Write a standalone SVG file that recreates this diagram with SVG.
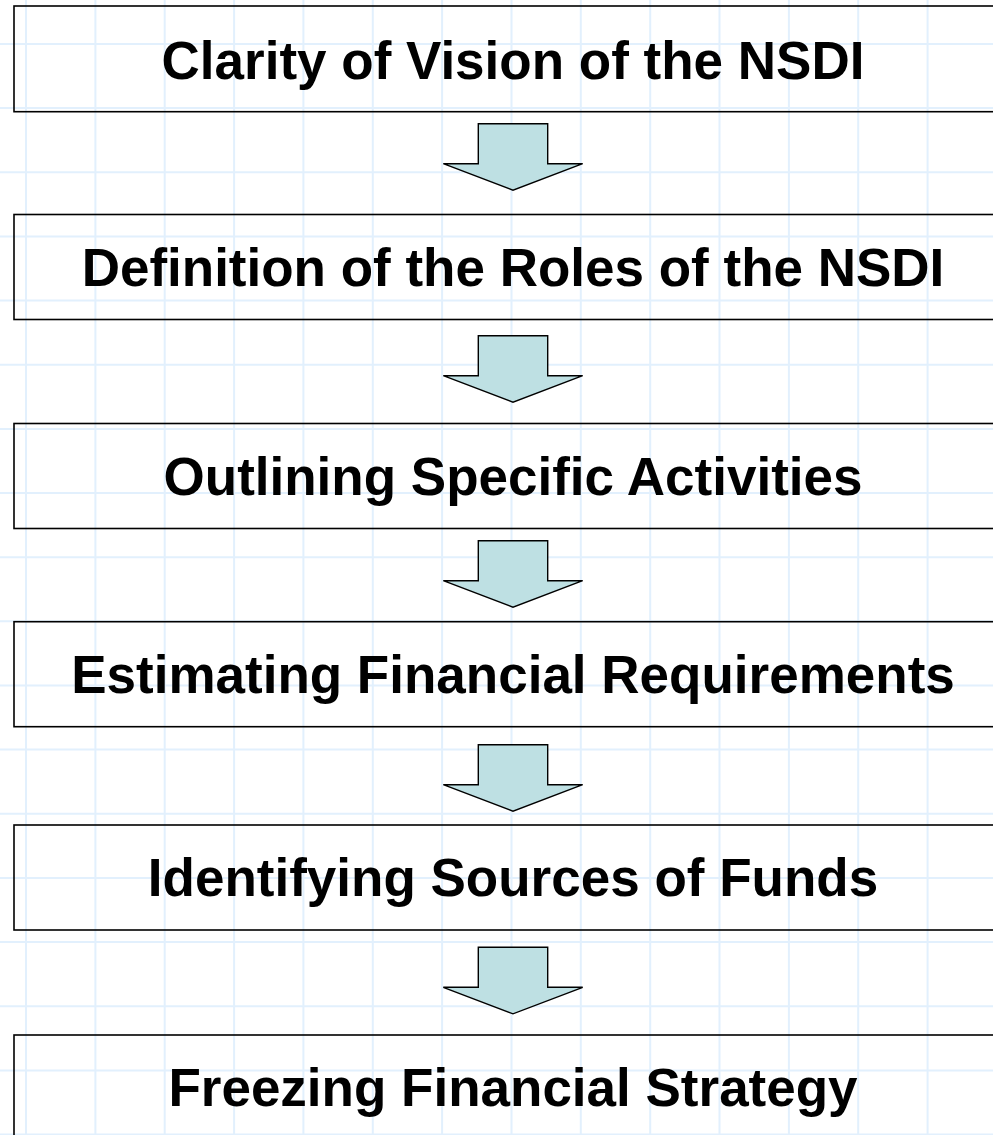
<svg xmlns="http://www.w3.org/2000/svg" width="993" height="1135" viewBox="0 0 993 1135">
<defs>
<style>
.grid line{stroke:#e2f0fd;stroke-width:2}
.box{fill:none;stroke:#000;stroke-width:1.6}
.lbl{font-family:"Liberation Sans",Arial,Helvetica,sans-serif;font-weight:bold;font-size:53px;fill:#000;text-anchor:middle}
.arr{fill:#bee0e3;stroke:#000;stroke-width:1.4;stroke-linejoin:miter}
</style>
<path id="ar" class="arr" d="M478.3,0 H547.7 V40 H582.7 L513,66.5 L443.3,40 H478.3 Z"/>
</defs>
<rect width="993" height="1135" fill="#fff"/>
<g class="grid">
<line x1="26" y1="0" x2="26" y2="1135"/>
<line x1="95.4" y1="0" x2="95.4" y2="1135"/>
<line x1="164.7" y1="0" x2="164.7" y2="1135"/>
<line x1="234.1" y1="0" x2="234.1" y2="1135"/>
<line x1="303.4" y1="0" x2="303.4" y2="1135"/>
<line x1="372.8" y1="0" x2="372.8" y2="1135"/>
<line x1="442.1" y1="0" x2="442.1" y2="1135"/>
<line x1="511.5" y1="0" x2="511.5" y2="1135"/>
<line x1="580.8" y1="0" x2="580.8" y2="1135"/>
<line x1="650.2" y1="0" x2="650.2" y2="1135"/>
<line x1="719.5" y1="0" x2="719.5" y2="1135"/>
<line x1="788.9" y1="0" x2="788.9" y2="1135"/>
<line x1="858.2" y1="0" x2="858.2" y2="1135"/>
<line x1="927.6" y1="0" x2="927.6" y2="1135"/>
<line x1="0" y1="44" x2="993" y2="44"/>
<line x1="0" y1="108.1" x2="993" y2="108.1"/>
<line x1="0" y1="172.3" x2="993" y2="172.3"/>
<line x1="0" y1="236.4" x2="993" y2="236.4"/>
<line x1="0" y1="300.6" x2="993" y2="300.6"/>
<line x1="0" y1="364.7" x2="993" y2="364.7"/>
<line x1="0" y1="428.9" x2="993" y2="428.9"/>
<line x1="0" y1="493" x2="993" y2="493"/>
<line x1="0" y1="557.2" x2="993" y2="557.2"/>
<line x1="0" y1="621.3" x2="993" y2="621.3"/>
<line x1="0" y1="685.5" x2="993" y2="685.5"/>
<line x1="0" y1="749.6" x2="993" y2="749.6"/>
<line x1="0" y1="813.8" x2="993" y2="813.8"/>
<line x1="0" y1="877.9" x2="993" y2="877.9"/>
<line x1="0" y1="942.1" x2="993" y2="942.1"/>
<line x1="0" y1="1006.2" x2="993" y2="1006.2"/>
<line x1="0" y1="1070.4" x2="993" y2="1070.4"/>
<line x1="0" y1="1134.5" x2="993" y2="1134.5"/>
</g>
<g id="connectors">
<use href="#ar" y="123.7"/>
<use href="#ar" y="335.7"/>
<use href="#ar" y="540.7"/>
<use href="#ar" y="744.7"/>
<use href="#ar" y="947.3"/>
</g>
<g id="n1"><rect class="box" x="14" y="6" width="1000" height="105.7"/><text class="lbl" x="513" y="78.5">Clarity of Vision of the NSDI</text></g>
<g id="n2"><rect class="box" x="14" y="214.5" width="1000" height="105"/><text class="lbl" x="513" y="286">Definition of the Roles of the NSDI</text></g>
<g id="n3"><rect class="box" x="14" y="423.5" width="1000" height="105"/><text class="lbl" x="513" y="495">Outlining Specific Activities</text></g>
<g id="n4"><rect class="box" x="14" y="621.7" width="1000" height="105"/><text class="lbl" x="513" y="692.7">Estimating Financial Requirements</text></g>
<g id="n5"><rect class="box" x="14" y="825" width="1000" height="105"/><text class="lbl" x="513" y="896">Identifying Sources of Funds</text></g>
<g id="n6"><rect class="box" x="14" y="1035" width="1000" height="105"/><text class="lbl" x="513" y="1106">Freezing Financial Strategy</text></g>
</svg>
